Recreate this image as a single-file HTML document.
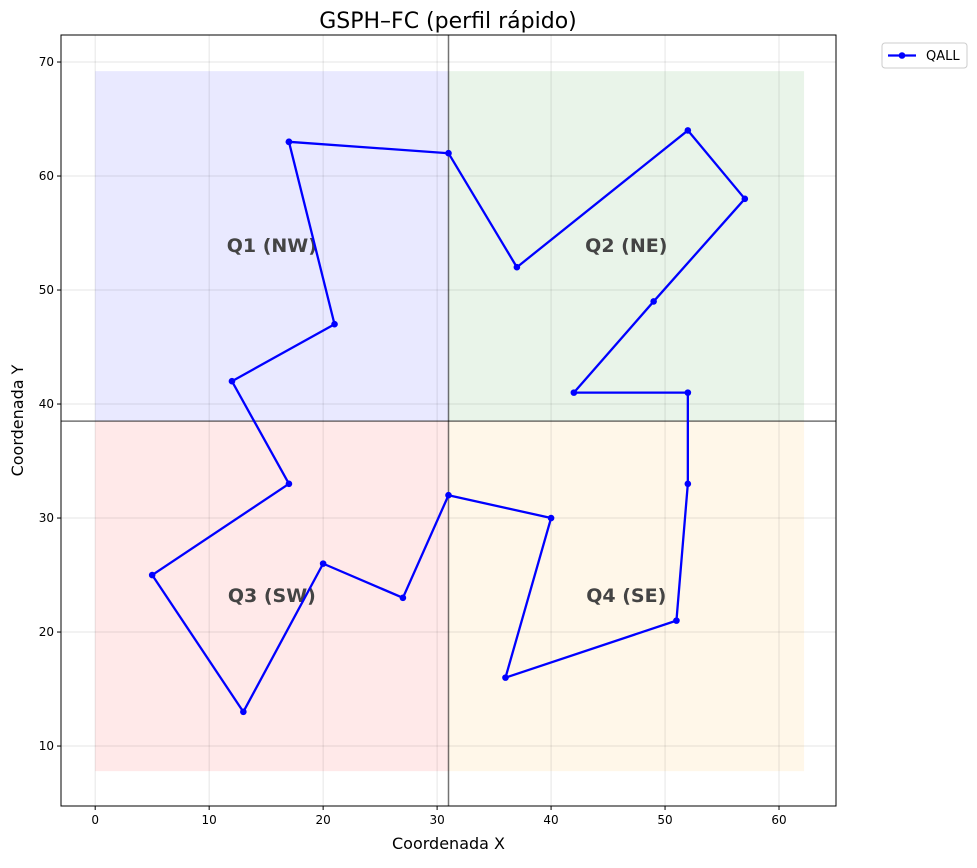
<!DOCTYPE html>
<html><head><meta charset="utf-8"><style>
body{margin:0;background:#fff;font-family:"Liberation Sans","DejaVu Sans",sans-serif}
</style></head><body>
<svg id="chart" width="977" height="863" xmlns="http://www.w3.org/2000/svg" font-family="'DejaVu Sans','Liberation Sans',sans-serif">
<text x="448" y="28" text-anchor="middle" font-size="22">GSPH–FC (perfil rápido)</text>
<g id="plot"></g>
</svg>
<script>
const xs=[17,31,37,52,57,49,42,52,52,51,36,40,31,27,20,13,5,17,12,21,17];
const ys=[63,62,52,64,58,49,41,41,33,21,16,30,32,23,26,13,25,33,42,47,63];
const xTicks=[0,10,20,30,40,50,60];
const yTicks=[10,20,30,40,50,60,70];
const quadrants=[["Q1 (NW)",0,31,38.5,69.2,"rgba(0,0,255,0.085)"],["Q2 (NE)",31,62.2,38.5,69.2,"rgba(0,128,0,0.085)"],["Q3 (SW)",0,31,7.8,38.5,"rgba(255,0,0,0.085)"],["Q4 (SE)",31,62.2,7.8,38.5,"rgba(255,165,0,0.085)"]];
const divX=31, divY=38.5;
const L=61,R=836,T=35,B=806, xmin=-3,xmax=65,ymin=4.74,ymax=72.37;
const sx=v=>L+(v-xmin)/(xmax-xmin)*(R-L), sy=v=>B-(v-ymin)/(ymax-ymin)*(B-T);
const g=document.getElementById('plot');
const NS='http://www.w3.org/2000/svg';
function mk(t,a,p){const e=document.createElementNS(NS,t);for(const k in a)e.setAttribute(k,a[k]);(p||g).appendChild(e);return e;}
quadrants.forEach(q=>{
 const r=mk('rect',{x:sx(q[1]),y:sy(q[4]),width:sx(q[2])-sx(q[1]),height:sy(q[3])-sy(q[4]),fill:q[5]});
 
 
});
xTicks.forEach(v=>{
 const l=mk('line',{x1:sx(v),x2:sx(v),y1:T,y2:B,stroke:'#000','stroke-opacity':0.1});
 
 
 mk('line',{x1:sx(v),x2:sx(v),y1:B,y2:B+4,stroke:'#000'});
 const t=mk('text',{x:sx(v),y:B+18,'text-anchor':'middle','font-size':12});t.textContent=v;
 
 
});
yTicks.forEach(v=>{
 const l=mk('line',{x1:L,x2:R,y1:sy(v),y2:sy(v),stroke:'#000','stroke-opacity':0.1});
 
 
 mk('line',{x1:L-4,x2:L,y1:sy(v),y2:sy(v),stroke:'#000'});
 const t=mk('text',{x:L-7,y:sy(v)+4,'text-anchor':'end','font-size':12});t.textContent=v;
 
 
});
quadrants.forEach(q=>{
 const t=mk('text',{x:sx((q[1]+q[2])/2),y:sy((q[3]+q[4])/2)+6,'text-anchor':'middle','font-size':19,'font-weight':'bold',fill:'#444'});
 t.textContent=q[0];
 
 
});
const dv=mk('line',{x1:sx(divX),x2:sx(divX),y1:T,y2:B,stroke:'#000','stroke-opacity':0.55,'stroke-width':1.5});


const dh=mk('line',{x1:L,x2:R,y1:sy(divY),y2:sy(divY),stroke:'#000','stroke-opacity':0.55,'stroke-width':1.5});


const pl=mk('polyline',{points:xs.map((x,i)=>sx(x)+','+sy(ys[i])).join(' '),fill:'none',stroke:'#0000ff','stroke-width':2.3,'stroke-linejoin':'round'});


xs.forEach((x,i)=>{
 const c=mk('circle',{cx:sx(x),cy:sy(ys[i]),r:3.3,fill:'#0000ff'});
 
 
});
const fr=mk('rect',{x:L,y:T,width:R-L,height:B-T,fill:'none',stroke:'#000','stroke-width':1});


const xt=mk('text',{x:(L+R)/2,y:849,'text-anchor':'middle','font-size':16});xt.textContent='Coordenada X';


const yt=mk('text',{x:0,y:0,'text-anchor':'middle','font-size':16,transform:'translate(23,'+(T+B)/2+') rotate(-90)'});yt.textContent='Coordenada Y';


const lg=mk('g',{});


mk('rect',{x:882,y:43,width:85,height:25,rx:3,fill:'#fff',stroke:'#ccc'},lg);
mk('line',{x1:888,x2:916,y1:55.5,y2:55.5,stroke:'#0000ff','stroke-width':2.3},lg);
mk('circle',{cx:902,cy:55.5,r:3.3,fill:'#0000ff'},lg);
const lt=mk('text',{x:926,y:60,'font-size':13},lg);lt.textContent='QALL';


</script>
</body></html>
